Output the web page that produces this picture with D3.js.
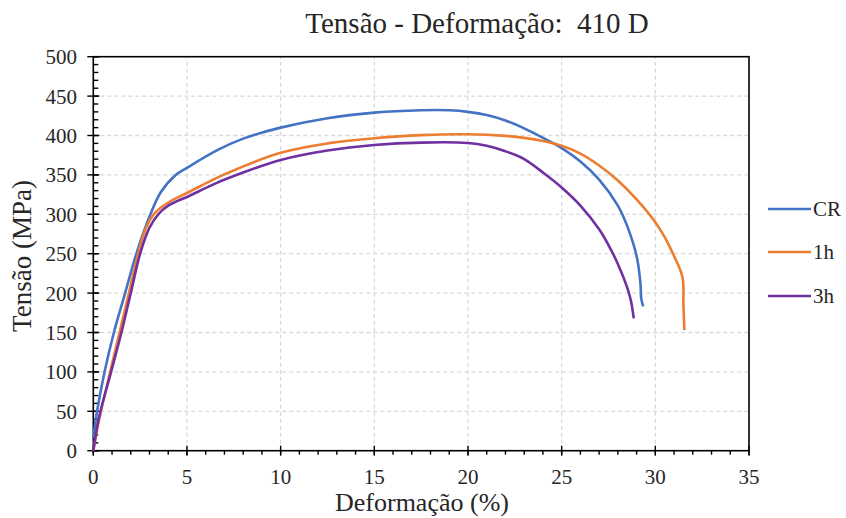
<!DOCTYPE html>
<html>
<head>
<meta charset="utf-8">
<script src="https://cdn.jsdelivr.net/npm/d3@7"></script>
<style>
body { margin: 0; background: #fff; }
</style>
</head>
<body>
<div id="canvas"></div>
<script>
// curves: [strain %, stress MPa]
var crData = [[0,16],[0.2,50],[0.6,100],[1.1,150],[1.7,200],[2.3,250],[3.05,300],[3.6,328],[4.4,350],[5,359],
    [6.67,382],[8,396],[10,410],[12.5,422],[15,429],[17.5,432],[19,432],[20,430],[21,426],[22,419],[23,409],
    [24,397],[25,384],[26,367],[27,344],[28,311],[28.5,285],[29,247],[29.2,214],[29.25,193],[29.35,183]];
var h1Data = [[0,0],[0.3,38],[0.9,100],[1.4,150],[1.9,200],[2.4,250],[2.8,282],[3.3,302],[4,315],[5,327],
    [6.94,350],[10,378],[12.5,390],[15,396.5],[17.5,400.5],[20,401.5],[22,399.5],[23,397],[24,393],[25,387],[26,377],
    [27,362],[28,343],[29,319],[30,290],[30.5,271],[31,247],[31.45,220],[31.5,185],[31.55,153]];
var h3Data = [[0,0],[0.3,42],[0.95,100],[1.5,150],[2,200],[2.5,250],[3,283],[3.5,301],[4,311],[4.5,317],[5,322],
    [6.5,339],[8,353],[10,369],[12.5,381],[15,388],[17.5,391],[20,390.5],[21,387],[22,380],[23,370],[24,353],
    [25,334],[26,311],[27,281],[27.5,261],[28,237],[28.5,207],[28.7,190],[28.85,168]];

var seriesNames = ["CR", "1h", "3h"];
var seriesColors = ["#4472C4", "#ED7D31", "#7030A0"];
var xTicks = [0, 5, 10, 15, 20, 25, 30, 35];
var yTicks = [0, 50, 100, 150, 200, 250, 300, 350, 400, 450, 500];

var svg = d3.select("#canvas").append("svg")
    .attr("width", 846)
    .attr("height", 518)
    .attr("font-family", "'Liberation Serif', 'Times New Roman', serif")
    .style("font-family", "'Liberation Serif', 'Times New Roman', serif");

var x = d3.scaleLinear().domain([0, 35]).range([93.3, 749]);
var y = d3.scaleLinear().domain([0, 500]).range([450.7, 56.7]);

// grid
svg.append("g").selectAll("line")
    .data(yTicks.slice(1, -1))
    .enter().append("line")
    .attr("x1", x(0)).attr("x2", x(35))
    .attr("y1", d => y(d)).attr("y2", d => y(d))
    .attr("stroke", "#d9d9d9").attr("stroke-width", 1.3)
    .attr("stroke-dasharray", "4,3");
svg.append("g").selectAll("line")
    .data(xTicks.slice(1, -1))
    .enter().append("line")
    .attr("y1", y(0)).attr("y2", y(500))
    .attr("x1", d => x(d)).attr("x2", d => x(d))
    .attr("stroke", "#d9d9d9").attr("stroke-width", 1.3)
    .attr("stroke-dasharray", "4,3");

// frame
svg.append("rect")
    .attr("x", x(0)).attr("y", y(500))
    .attr("width", x(35) - x(0)).attr("height", y(0) - y(500))
    .attr("fill", "none").attr("stroke", "#000").attr("stroke-width", 1.6);

// minor ticks
var ticks = svg.append("g").attr("stroke", "#000").attr("stroke-width", 1.4);
ticks.selectAll(".my").data(d3.range(0, 501, 10))
    .enter().append("line")
    .attr("x1", x(0)).attr("x2", x(0) + 5)
    .attr("y1", d => y(d)).attr("y2", d => y(d));
ticks.selectAll(".mx").data(d3.range(0, 36, 1))
    .enter().append("line")
    .attr("y1", y(0)).attr("y2", y(0) + 4)
    .attr("x1", d => x(d)).attr("x2", d => x(d));
// major ticks
ticks.selectAll(".Y").data(yTicks)
    .enter().append("line")
    .attr("x1", x(0) - 6).attr("x2", x(0) + 6)
    .attr("y1", d => y(d)).attr("y2", d => y(d));
ticks.selectAll(".X").data(xTicks)
    .enter().append("line")
    .attr("y1", y(0) - 5).attr("y2", y(0) + 5)
    .attr("x1", d => x(d)).attr("x2", d => x(d));

// tick labels
svg.append("g").selectAll("text")
    .data(yTicks)
    .enter().append("text")
    .attr("x", 77).attr("y", d => y(d) + 7.5)
    .attr("text-anchor", "end")
    .attr("fill", "#262626")
    .style("font-size", "21px")
    .text(d => d);
svg.append("g").selectAll("text")
    .data(xTicks)
    .enter().append("text")
    .attr("x", d => x(d)).attr("y", 484)
    .attr("text-anchor", "middle")
    .attr("fill", "#262626")
    .style("font-size", "21px")
    .text(d => d);

// curves
var line = d3.line()
    .x(d => x(d[0]))
    .y(d => y(d[1]))
    .curve(d3.curveCatmullRom.alpha(0.5));

var allData = [crData, h1Data, h3Data];
allData.forEach(function (data, i) {
    svg.append("path")
        .attr("d", line(data))
        .attr("fill", "none")
        .attr("stroke", seriesColors[i])
        .attr("stroke-width", 2.6)
        .attr("stroke-linejoin", "round");
});

// legend
var legendY = [209, 252, 296];
seriesNames.forEach(function (name, i) {
    svg.append("line")
        .attr("x1", 768).attr("x2", 811)
        .attr("y1", legendY[i]).attr("y2", legendY[i])
        .attr("stroke", seriesColors[i])
        .attr("stroke-width", 2.6);
    svg.append("text")
        .attr("x", 813).attr("y", legendY[i] + 7)
        .attr("fill", "#262626")
        .style("font-size", "21px")
        .text(name);
});

// titles
svg.append("text")
    .attr("x", 477).attr("y", 33)
    .attr("text-anchor", "middle")
    .attr("fill", "#262626")
    .style("font-size", "29px")
    .style("white-space", "pre")
    .text("Tensão - Deformação:  410 D");

svg.append("text")
    .attr("x", 422).attr("y", 511)
    .attr("text-anchor", "middle")
    .attr("fill", "#262626")
    .style("font-size", "26px")
    .text("Deformação (%)");

svg.append("text")
    .attr("transform", "translate(31,256) rotate(-90)")
    .attr("text-anchor", "middle")
    .attr("fill", "#262626")
    .style("font-size", "27px")
    .text("Tensão (MPa)");
</script>
</body>
</html>
